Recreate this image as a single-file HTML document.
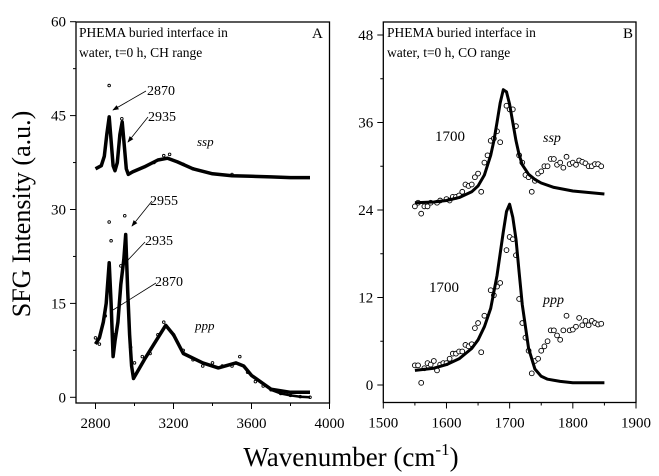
<!DOCTYPE html>
<html><head><meta charset="utf-8"><style>
html,body{margin:0;padding:0;background:#fff;}
svg{display:block;font-family:"Liberation Serif",serif;}
</style></head><body>
<svg id="chart" width="659" height="476" viewBox="0 0 659 476"></svg>
<script>
// Panel A (CH range)
const aXTicks=[2800,3200,3600,4000];
const aYTicks=[0,15,30,45,60];
const aSspFitX=[2800,2830,2845,2858,2870,2880,2890,2900,2912,2925,2937,2948,2958,2968,2990,3050,3120,3170,3220,3300,3400,3500,3600,3700,3800,3900];
const aSspFitY=[36.5,37,38.5,42,44.8,41,37,36.2,37.5,42,44,40,36.5,35.6,36,36.8,37.9,38.2,37.6,36.5,35.7,35.4,35.3,35.2,35.1,35.1];
const aPppFitX=[2800,2820,2840,2855,2870,2880,2890,2900,2915,2930,2945,2955,2965,2975,2985,2995,3050,3100,3160,3200,3250,3350,3430,3520,3560,3600,3700,3800,3900];
const aPppFitY=[8.5,9.5,12,15,21.5,15,6.5,9,12,18,22,26,17,10,5,3,6,8.5,11.5,10,7,5.5,4.7,5.5,5,3.5,1.3,0.8,0.8];
const aPppDataX=[2800,2820,2850,2870,2880,2900,2930,2950,2960,2980,3000,3040,3080,3120,3150,3200,3250,3300,3350,3400,3450,3500,3540,3580,3620,3660,3700,3750,3800,3850,3900];
const aPppDataY=[9.5,8.5,13,28,25,10,21,29,22,8,5.5,6.5,7,10,12,10,7.5,6,5,5.5,5,5,6.5,4,2.5,1.8,1.2,0.6,0.3,0.1,0];
const aSspDataX=[2870,2935,3100,3150,3180,3250,3300,3500];
const aSspDataY=[49.8,44.5,37.5,38.6,38.8,37.2,36.5,35.6];
// Panel B (CO range)
const bXTicks=[1500,1600,1700,1800,1900];
const bYTicks=[0,12,24,36,48];
const bSspFitX=[1550,1580,1600,1620,1640,1650,1660,1670,1675,1680,1685,1690,1695,1700,1705,1710,1715,1720,1730,1740,1750,1770,1800,1825,1850];
const bSspFitY=[25,25.1,25.3,25.7,26.5,27.3,28.8,31.5,33.5,36,38.7,40.5,40.2,38.5,36,33.5,31.6,30.2,28.9,28.2,27.7,27.1,26.6,26.4,26.2];
const bSspDataX=[1550,1555,1560,1565,1570,1575,1585,1590,1600,1605,1610,1615,1620,1625,1630,1635,1640,1645,1650,1655,1660,1665,1670,1675,1680,1685,1695,1700,1705,1710,1715,1720,1725,1730,1735,1740,1745,1750,1755,1760,1765,1770,1775,1780,1785,1790,1795,1800,1805,1810,1815,1820,1825,1830,1835,1840,1845];
const bSspDataY=[24.5,25,23.5,24.5,24.5,25,25,25.3,25.5,25.3,25.8,25.8,26,26.5,27.5,27.3,27.5,28.5,29,26.5,30.5,31.5,33.5,33.8,34.8,33.3,38.3,37.8,37.8,35.5,31.5,30.5,28.8,28.5,26.5,28,29,29.3,30,30,31,31,30.2,30.5,29.8,31.3,30.3,30.5,30.2,30.8,30.6,30.4,30,30,30.3,30.3,30];
const bPppFitX=[1550,1580,1600,1620,1640,1650,1660,1670,1680,1690,1695,1700,1705,1710,1715,1720,1730,1740,1750,1760,1780,1800,1850];
const bPppFitY=[2,2.3,2.8,3.6,5,6.2,8,10.5,15,21,23.8,24.8,23,20,15.5,11,5,2.2,1.2,0.8,0.5,0.3,0.3];
const bPppDataX=[1550,1555,1560,1565,1570,1575,1580,1585,1590,1595,1600,1605,1610,1615,1620,1625,1630,1635,1640,1645,1650,1655,1660,1670,1675,1680,1685,1695,1700,1705,1710,1715,1720,1725,1730,1735,1740,1745,1750,1755,1760,1765,1770,1775,1780,1785,1790,1795,1800,1805,1810,1815,1820,1825,1830,1835,1840,1845];
const bPppDataY=[2.7,2.7,0.3,2.3,3,2.8,3.3,2,2.8,3,3,3.6,4.3,4.3,4.6,4.6,5.5,5.3,5.6,7.8,8.5,4.5,9.5,13,12.3,13.5,14,18.5,20.3,20,17.8,11.8,8.5,6.5,4.7,1.6,3.3,3.6,4.7,5.3,6,7.5,7.5,6.8,6.2,7.5,9.5,7.5,7.6,8,9.2,8.2,8.8,8.2,8.8,8.5,8.3,8.4];

const NS="http://www.w3.org/2000/svg";
const svg=document.getElementById('chart');
function mk(tag,attrs,parent){const e=document.createElementNS(NS,tag);for(const k in attrs)e.setAttribute(k,attrs[k]);(parent||svg).appendChild(e);return e;}
function lin(d0,d1,r0,r1){return v=>r0+(v-d0)/(d1-d0)*(r1-r0);}

const ax={x:lin(2700,4000,76,329.5),y:lin(0,60,397.3,21.7),L:76,R:329.5,T:22,B:403};
const bx={x:lin(1500,1900,383.3,636),y:lin(0,48,385,35),L:383.3,R:636,T:22,B:402.5};

function frame(p,name,xt,xminor,yt,yminor){
  const g=mk('g',{});
  
  
  const r=mk('rect',{x:p.L,y:p.T,width:p.R-p.L,height:p.B-p.T,fill:'none',stroke:'#000','stroke-width':1.3},g);
  
  
  xt.forEach(v=>{const X=p.x(v);mk('line',{x1:X,x2:X,y1:p.B,y2:p.B+6,stroke:'#000'},g);
    const t=mk('text',{x:X,y:p.B+25,'text-anchor':'middle','font-size':15},g);t.textContent=v;
    
    });
  xminor.forEach(v=>{const X=p.x(v);mk('line',{x1:X,x2:X,y1:p.B,y2:p.B+3,stroke:'#000'},g);});
  yt.forEach(v=>{const Y=p.y(v);mk('line',{x1:p.L-6,x2:p.L,y1:Y,y2:Y,stroke:'#000'},g);
    const t=mk('text',{x:p.L-10,y:Y+5,'text-anchor':'end','font-size':15},g);t.textContent=v;
    
    });
  yminor.forEach(v=>{const Y=p.y(v);mk('line',{x1:p.L-3,x2:p.L,y1:Y,y2:Y,stroke:'#000'},g);});
}
frame(ax,'panel-a',aXTicks,[3000,3400,3800],aYTicks,[7.5,22.5,37.5,52.5]);
frame(bx,'panel-b',bXTicks,[1550,1650,1750,1850],bYTicks,[6,18,30,42]);

function line(p,xs,ys,name,w){
  const d=xs.map((x,i)=>(i?'L':'M')+p.x(x).toFixed(1)+','+p.y(ys[i]).toFixed(1)).join('');
  const e=mk('path',{d:d,fill:'none',stroke:'#000','stroke-width':w,'stroke-linejoin':'round'});
  
  
}
function dots(p,xs,ys,name,r){
  const g=mk('g',{});
  
  
  xs.forEach((x,i)=>{const c=mk('circle',{cx:p.x(x),cy:p.y(ys[i]),r:r,fill:'#fff',stroke:'#000','stroke-width':0.9},g);
    
    });
}
dots(ax,aPppDataX,aPppDataY,'ppp-data-a',1.3);
line(ax,aPppDataX.slice(-5),aPppDataY.slice(-5),'ppp-data-tail-a',2.5);
dots(ax,aSspDataX,aSspDataY,'ssp-data-a',1.3);
line(ax,aSspFitX,aSspFitY,'ssp-fit-a',3.5);
line(ax,aPppFitX,aPppFitY,'ppp-fit-a',3.5);
dots(bx,bSspDataX,bSspDataY,'ssp-data-b',2.4);
dots(bx,bPppDataX,bPppDataY,'ppp-data-b',2.4);
line(bx,bSspFitX,bSspFitY,'ssp-fit-b',3);
line(bx,bPppFitX,bPppFitY,'ppp-fit-b',3);

function txt(x,y,s,size,name,extra){const t=mk('text',Object.assign({x:x,y:y,'font-size':size},extra||{}));t.textContent=s;
  
  return t;}
txt(79,37,'PHEMA buried interface in',13.5,'panel-a-title-line1');
txt(79,57,'water, t=0 h, CH range',13.5,'panel-a-title-line2');
txt(312,38,'A',15,'panel-a-letter');
txt(387,37,'PHEMA buried interface in',13.5,'panel-b-title-line1');
txt(387,57,'water, t=0 h, CO range',13.5,'panel-b-title-line2');
txt(623,38,'B',15,'panel-b-letter');
txt(147,95,'2870',14,'label-2870-ssp');
txt(148,121,'2935',14,'label-2935-ssp');
txt(150,205,'2955',14,'label-2955-ppp');
txt(145,245,'2935',14,'label-2935-ppp');
txt(155,286,'2870',14,'label-2870-ppp');
txt(197,146,'ssp',13,'label-ssp-a',{'font-style':'italic'});
txt(195,330,'ppp',13,'label-ppp-a',{'font-style':'italic'});
txt(435,141,'1700',15,'label-1700-ssp');
txt(543,142,'ssp',14,'label-ssp-b',{'font-style':'italic'});
txt(429,292,'1700',15,'label-1700-ppp');
txt(543,304,'ppp',14,'label-ppp-b',{'font-style':'italic'});
// arrows
mk('defs',{}).innerHTML='<marker id="ah" markerWidth="8" markerHeight="6" refX="7" refY="3" orient="auto"><path d="M0,0L8,3L0,6z" fill="#000"/></marker>';
[[146,91,113,110,1],[148,117,128,142,1],[152,201,132,226,1],[145,242,128,260,0],[156,283,113,310,0]].forEach(a=>{
  const l=mk('line',{x1:a[0],y1:a[1],x2:a[2],y2:a[3],stroke:'#000','stroke-width':0.8});
  if(a[4])l.setAttribute('marker-end','url(#ah)');
  
  
});
const yl=txt(0,0,'SFG Intensity (a.u.)',26,'y-axis-title',{'text-anchor':'middle',transform:'translate(30,214) rotate(-90)'});
const xl=mk('text',{x:351,y:466,'font-size':27,'text-anchor':'middle'});
xl.innerHTML='Wavenumber (cm<tspan dy="-11" font-size="17">-1</tspan><tspan dy="11">)</tspan>';


</script>
</body></html>
